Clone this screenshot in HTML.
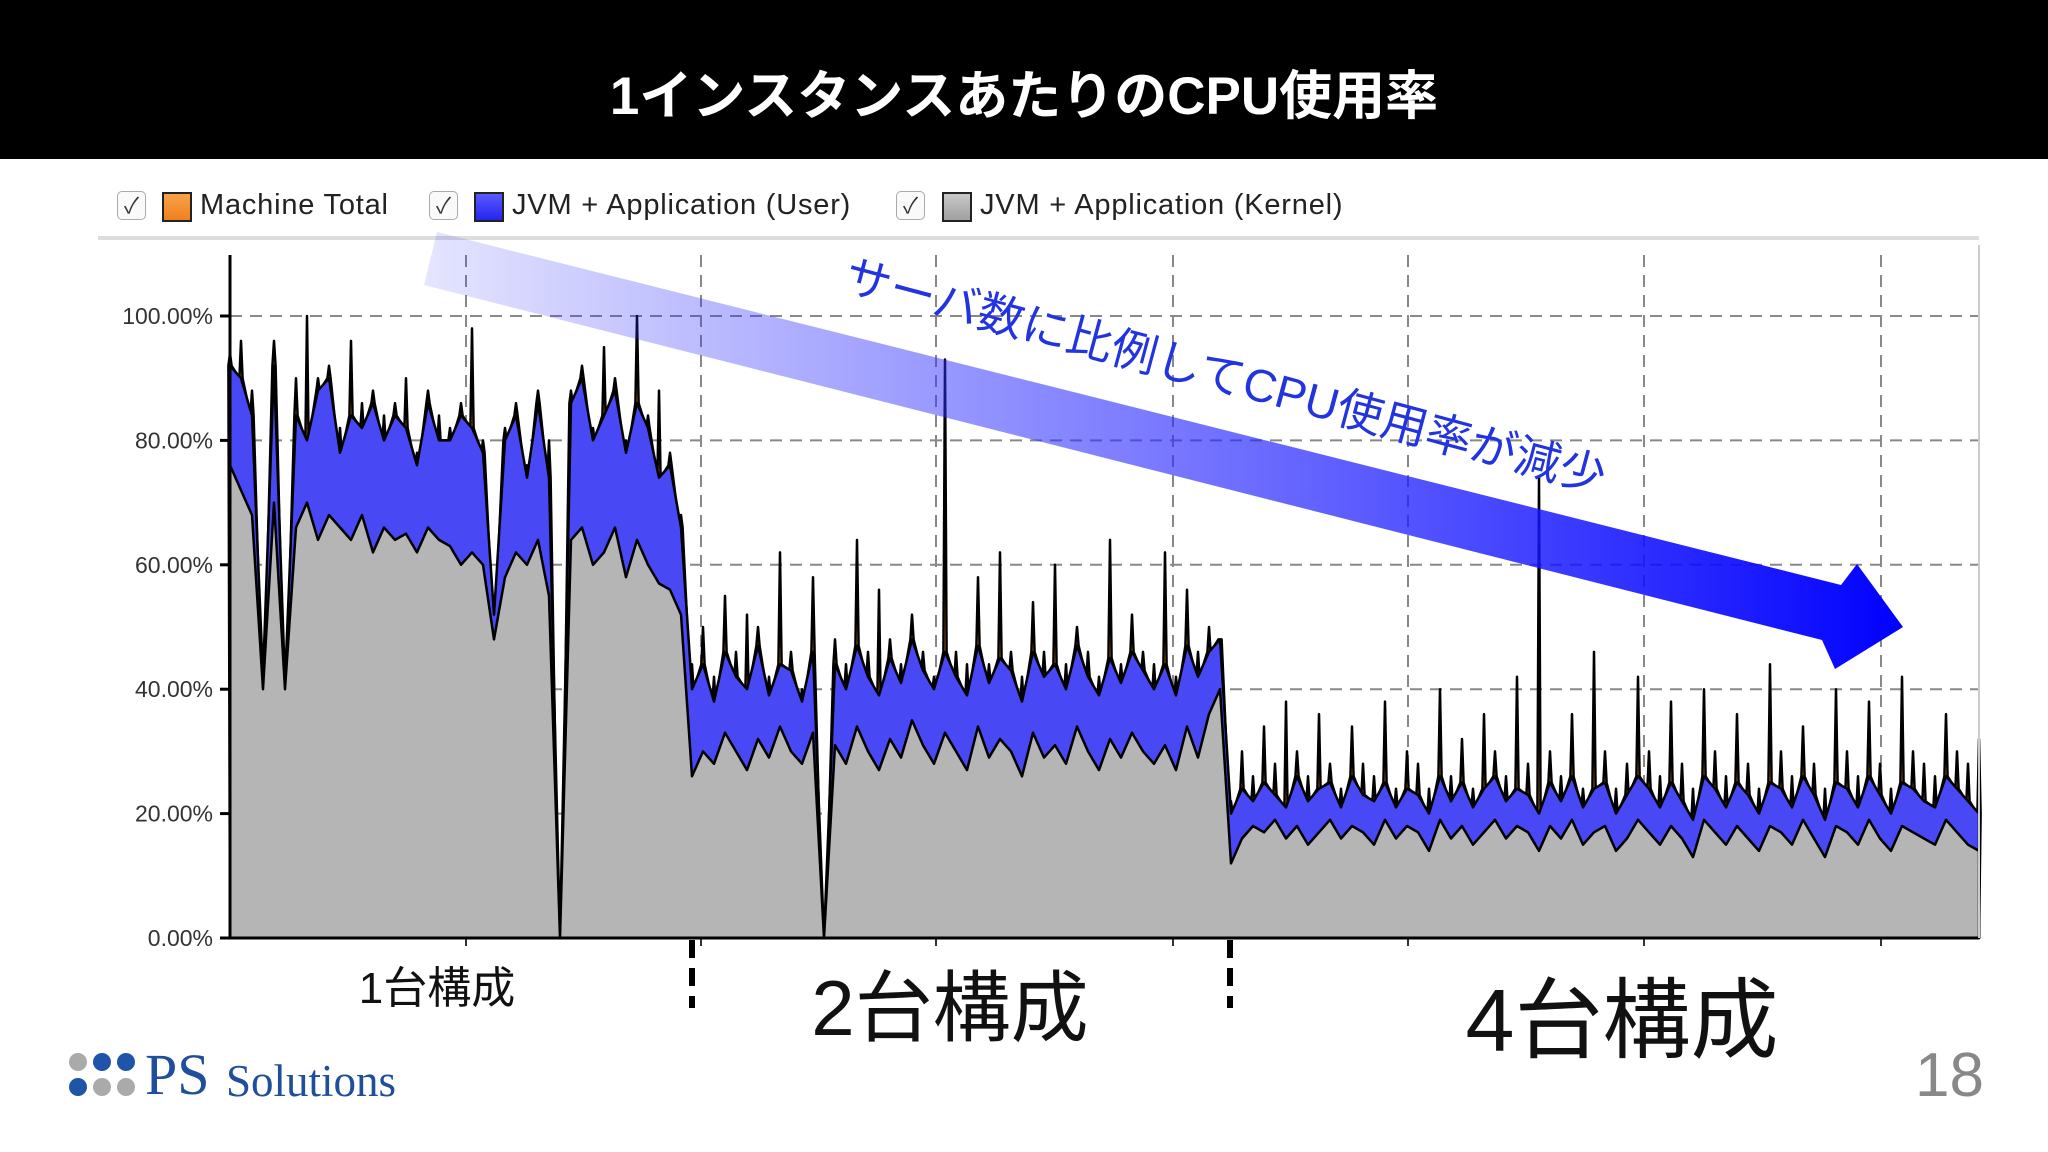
<!DOCTYPE html>
<html><head><meta charset="utf-8">
<style>
html,body{margin:0;padding:0;width:2048px;height:1152px;background:#fff;overflow:hidden}
body{position:relative;font-family:"Liberation Sans","Noto Sans CJK JP",sans-serif}
#hdr{position:absolute;left:0;top:0;width:2048px;height:159px;background:#000}
#title{position:absolute;left:0;top:61px;width:2048px;text-align:center;color:#fff;font-size:53px;font-weight:bold;line-height:72px}
.lg{position:absolute;top:188px;height:34px;font-size:29px;line-height:34px;color:#222;letter-spacing:0.8px}
.cb{position:absolute;top:191px;width:29px;height:29px;border:1.5px solid #aaa;border-radius:5px;box-sizing:border-box;font-size:22px;line-height:27px;text-align:center;color:#333;background:#fafafa}
.sw{position:absolute;top:192px;width:30px;height:30px;border:2px solid #222;box-sizing:border-box}
.sec{position:absolute;color:#111;white-space:nowrap;transform:translateX(-50%)}
</style></head><body>
<div id="hdr"></div>
<div id="title">1インスタンスあたりのCPU使用率</div>

<div class="cb" style="left:117px">✓</div>
<div class="sw" style="left:162px;background:linear-gradient(#f7a34a,#f08020)"></div>
<div class="lg" style="left:200px">Machine Total</div>
<div class="cb" style="left:429px">✓</div>
<div class="sw" style="left:474px;background:linear-gradient(#5a5aff,#2525f0)"></div>
<div class="lg" style="left:512px">JVM + Application (User)</div>
<div class="cb" style="left:896px">✓</div>
<div class="sw" style="left:942px;background:linear-gradient(#c8c8c8,#a0a0a0)"></div>
<div class="lg" style="left:980px">JVM + Application (Kernel)</div>

<svg id="chart" width="2048" height="1152" style="position:absolute;left:0;top:0">
<defs>
<linearGradient id="ag" x1="0" y1="0" x2="1" y2="0">
<stop offset="0" stop-color="#2a2aff" stop-opacity="0.12"/>
<stop offset="0.45" stop-color="#3030ff" stop-opacity="0.6"/>
<stop offset="1" stop-color="#0000ff" stop-opacity="1"/>
</linearGradient>
</defs>
<line x1="98" y1="238" x2="1979" y2="238" stroke="#ddd" stroke-width="4"/>
<g id="grid"></g>
<g id="areas"></g>
<g id="axes"></g>
<polygon points="437,232 1841,585 1857,564 1903,627 1835,669 1822,640 424,285" fill="url(#ag)"/>
<text x="842" y="290" transform="rotate(15 842 290)" fill="#2233e0" font-size="46" font-family="Liberation Sans, Noto Sans CJK JP, sans-serif">サーバ数に比例してCPU使用率が減少</text>
<line x1="692" y1="940" x2="692" y2="1008" stroke="#000" stroke-width="6" stroke-dasharray="18,10"/>
<line x1="1230" y1="940" x2="1230" y2="1008" stroke="#000" stroke-width="6" stroke-dasharray="18,10"/>
<circle cx="78" cy="1062" r="9" fill="#aaa"/>
<circle cx="102" cy="1062" r="9" fill="#1f55a8"/>
<circle cx="126" cy="1062" r="9" fill="#1f55a8"/>
<circle cx="78" cy="1087" r="9" fill="#1f55a8"/>
<circle cx="102" cy="1087" r="9" fill="#aaa"/>
<circle cx="126" cy="1087" r="9" fill="#aaa"/>
<text x="145" y="1094" fill="#1f4e9a" font-size="58" font-family="Liberation Serif, serif">PS</text>
<text x="226" y="1096" fill="#1f4e9a" font-size="45" font-family="Liberation Serif, serif">Solutions</text>
<text x="1984" y="1096" text-anchor="end" fill="#888" font-size="62" font-family="Liberation Sans, sans-serif">18</text>
</svg>

<div class="sec" style="left:437px;top:952px;font-size:44px">1台構成</div>
<div class="sec" style="left:950px;top:946px;font-size:78px">2台構成</div>
<div class="sec" style="left:1622px;top:950px;font-size:88px">4台構成</div>

<script>
const yTicks = [0,20,40,60,80,100];
const yTickLabels = ["0.00%","20.00%","40.00%","60.00%","80.00%","100.00%"];
const kernel = [76,72,68,40,70,40,66,70,64,68,66,64,68,62,66,64,65,62,66,64,63,60,62,60,48,58,62,60,64,55,0,64,66,60,62,66,58,64,60,57,56,52,
26,30,28,33,30,27,32,29,34,30,28,33,0,31,28,34,30,27,32,29,35,31,28,33,30,27,34,29,32,30,26,33,29,31,28,34,30,27,32,29,33,30,28,31,27,34,29,36,40,
12,16,18,17,19,16,18,15,17,19,16,18,17,15,19,16,18,17,14,19,16,18,15,17,19,16,18,17,14,18,16,19,15,17,18,14,16,19,17,15,18,16,13,19,17,15,18,16,14,18,17,15,19,16,13,18,17,15,19,16,14,18,17,16,15,19,17,15,14];
const user = [92,90,84,42,92,41,84,80,88,90,78,84,82,86,80,84,82,76,86,80,80,84,82,78,52,80,84,74,86,74,0,86,90,80,84,88,78,86,82,74,76,66,
40,44,38,46,42,40,47,39,44,43,38,46,0,44,40,47,42,39,45,41,48,43,40,46,42,39,47,41,45,43,38,46,42,44,40,47,42,39,45,41,46,43,40,44,39,47,42,46,48,
20,24,22,25,23,21,26,22,24,25,21,26,23,22,25,21,24,23,20,26,22,25,21,24,26,22,24,23,20,25,22,26,21,24,25,20,23,26,24,21,25,22,19,26,24,21,25,23,20,25,24,21,26,23,19,25,24,21,26,23,20,25,24,22,21,26,24,22,20];
const total = [94,96,88,42,96,41,90,100,90,92,82,96,86,88,84,86,90,78,88,84,82,86,98,80,52,82,86,76,88,80,0,88,92,82,95,90,80,100,84,88,78,68,
44,50,42,55,46,52,50,42,62,46,40,58,0,48,44,64,46,56,48,44,52,46,42,93,46,44,58,44,62,46,42,54,46,60,44,50,46,42,64,44,52,46,44,62,42,56,46,50,48,
22,30,26,34,28,38,30,26,36,28,24,34,28,26,38,24,30,28,24,40,26,32,24,36,30,26,42,28,74,30,26,36,24,46,30,24,28,42,30,26,38,28,24,40,30,26,36,28,24,44,30,26,34,28,24,40,30,26,38,28,24,42,30,28,26,36,30,28,32];

const X0=230, X1=1979, Y0=938, Y100=316;
function xs(i){return X0+i*(X1-X0)/(kernel.length-1);}
function ys(v){return Y0-(v/100)*(Y0-Y100);}
const NS="http://www.w3.org/2000/svg";
function mk(tag,attrs,parent){const e=document.createElementNS(NS,tag);for(const k in attrs)e.setAttribute(k,attrs[k]);parent.appendChild(e);return e;}

const grid=document.getElementById('grid');
for(let i=1;i<yTicks.length;i++){
  const l=mk('line',{x1:X0,x2:X1,y1:ys(yTicks[i]),y2:ys(yTicks[i]),stroke:'#888','stroke-width':2,'stroke-dasharray':'12,8'},grid);
  
  
}
const vx=[466,701,936,1173,1408,1644,1881];
vx.forEach(x=>{
  const l=mk('line',{x1:x,x2:x,y1:255,y2:Y0,stroke:'#888','stroke-width':2,'stroke-dasharray':'12,8'},grid);
  
  
  const t=mk('line',{x1:x,x2:x,y1:Y0,y2:Y0+8,stroke:'#333','stroke-width':2},grid);
  
  
});

function areaPath(vals){
  let d='M'+xs(0)+','+Y0;
  vals.forEach((v,i)=>{d+=' L'+xs(i).toFixed(1)+','+ys(v).toFixed(1);});
  d+=' L'+xs(vals.length-1)+','+Y0+' Z';
  return d;
}
function spikePath(base,top){
  const w=1.6;
  let d='M'+xs(0)+','+Y0;
  base.forEach((v,i)=>{
    const x=xs(i);
    d+=' L'+(x-w).toFixed(1)+','+ys(v).toFixed(1)+' L'+x.toFixed(1)+','+ys(top[i]).toFixed(1)+' L'+(x+w).toFixed(1)+','+ys(v).toFixed(1);
  });
  d+=' L'+xs(base.length-1)+','+Y0+' Z';
  return d;
}
const areas=document.getElementById('areas');
const tot=total.map((v,i)=>Math.max(v,user[i]));
const usr=user.map((v,i)=>Math.max(v,kernel[i]));
const pt=mk('path',{d:spikePath(usr,tot),fill:'#f08a2c',stroke:'#000','stroke-width':2.5,'stroke-linejoin':'round'},areas);


const pu=mk('path',{d:areaPath(usr),fill:'#4848f4',stroke:'#000','stroke-width':2.5,'stroke-linejoin':'round'},areas);


const pk=mk('path',{d:areaPath(kernel),fill:'#b5b5b5',stroke:'#000','stroke-width':2.5,'stroke-linejoin':'round'},areas);



const axes=document.getElementById('axes');
const ya=mk('line',{x1:X0,x2:X0,y1:255,y2:Y0,stroke:'#000','stroke-width':3},axes);


const xa=mk('line',{x1:X0,x2:X1,y1:Y0,y2:Y0,stroke:'#000','stroke-width':3},axes);


const ra=mk('line',{x1:X1,x2:X1,y1:245,y2:Y0,stroke:'#ccc','stroke-width':2},axes);


yTicks.forEach((v,i)=>{
  const t=mk('line',{x1:X0-10,x2:X0,y1:ys(v),y2:ys(v),stroke:'#000','stroke-width':3},axes);
  
  
  const tx=mk('text',{x:X0-17,y:ys(v)+8,'text-anchor':'end','font-size':23,fill:'#333','font-family':'Liberation Sans, sans-serif'},axes);
  tx.textContent=yTickLabels[i];
  
  
});
</script>
</body></html>
